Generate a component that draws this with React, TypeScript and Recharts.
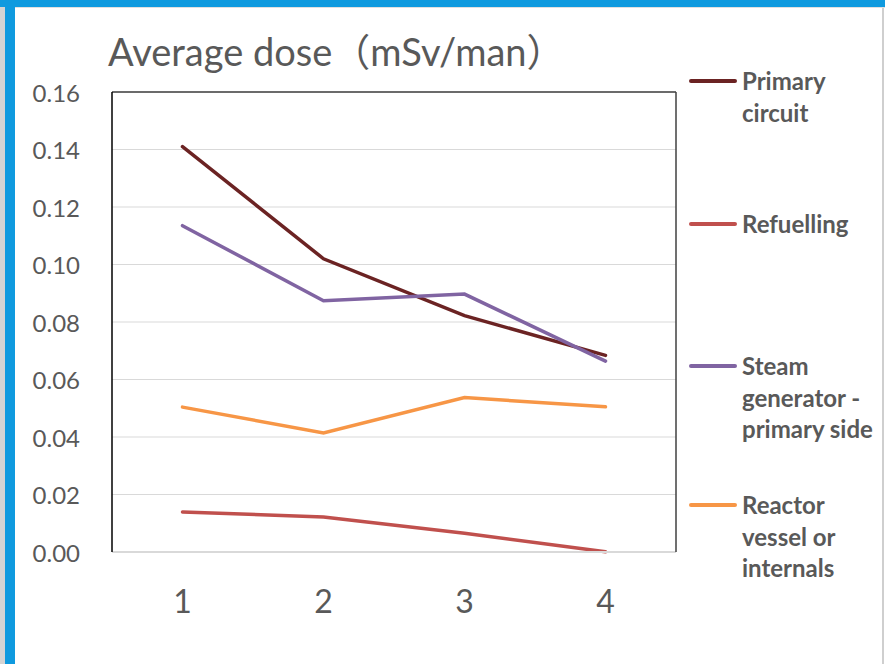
import React from "react";
import { LineChart, Line, XAxis, YAxis, CartesianGrid, ReferenceLine } from "recharts";

const categories = ["1", "2", "3", "4"];
const primaryCircuit = [0.141, 0.102, 0.0822, 0.0684];
const refuelling = [0.0139, 0.0122, 0.0065, 0.0001];
const steamGenerator = [0.1135, 0.0874, 0.0897, 0.0664];
const reactorVessel = [0.0504, 0.0414, 0.0537, 0.0505];
const yTicks = [0, 0.02, 0.04, 0.06, 0.08, 0.1, 0.12, 0.14, 0.16];

const seriesNames = ["Primary circuit", "Refuelling", "Steam generator - primary side", "Reactor vessel or internals"];
const seriesKeys = ["primary", "refuel", "steam", "reactor"];
const seriesColors = ["#6B2323", "#C0504D", "#8064A2", "#F79646"];
const seriesValues = [primaryCircuit, refuelling, steamGenerator, reactorVessel];

const data = categories.map((c, i) => {
  const row: Record<string, string | number> = { cat: c };
  seriesKeys.forEach((k, s) => {
    row[k] = seriesValues[s][i];
  });
  return row;
});

const legendTops = [65, 208, 350, 489];
const FONT = "Lato, 'Noto Sans CJK JP', sans-serif";
const GRAY = "#595959";

const YTick = (props: any) => {
  const { x, y, payload } = props;
  return (
    <text x={x - 24} y={y} textAnchor="end" dominantBaseline="central" fontSize={24} fill={GRAY} fontFamily={FONT}>
      {payload.value.toFixed(2)}
    </text>
  );
};

const XTick = (props: any) => {
  const { x, y, payload } = props;
  return (
    <text x={x} y={y + 40} textAnchor="middle" dominantBaseline="central" fontSize={32} fill={GRAY} fontFamily={FONT}>
      {payload.value}
    </text>
  );
};

export default function App() {
  return (
    <div style={{ position: "absolute", left: 0, top: 0, width: 885, height: 664, background: "#fff", overflow: "hidden", fontFamily: FONT }}>
      <div style={{ position: "absolute", left: 0, top: 0, width: 885, height: 7, background: "#0F9ADF" }} />
      <div style={{ position: "absolute", left: 0, top: 7, width: 885, height: 1, background: "#e0e0e0" }} />
      <div style={{ position: "absolute", left: 0, top: 7, width: 5, height: 657, background: "#d4d4d4" }} />
      <div style={{ position: "absolute", left: 5, top: 7, width: 10, height: 657, background: "#0F9ADF" }} />
      <div style={{ position: "absolute", left: 882, top: 8, width: 2, height: 656, background: "#cfcfcf" }} />
      <div style={{ position: "absolute", left: 108, top: 28, fontSize: 38, lineHeight: "46px", color: GRAY, whiteSpace: "nowrap" }}>
        Average dose（mSv/man）
      </div>
      <div style={{ position: "absolute", left: 0, top: 0 }}>
        <LineChart width={885} height={664} data={data} margin={{ top: 92, right: 208, left: 0, bottom: 52 }}>
          <CartesianGrid horizontal={true} vertical={false} stroke="#d9d9d9" strokeWidth={1.2} />
          <XAxis dataKey="cat" scale="band" height={60} axisLine={{ stroke: "#d9d9d9", strokeWidth: 2 }} tickLine={false} tick={<XTick />} />
          <YAxis width={112} domain={[0, 0.16]} ticks={yTicks} axisLine={{ stroke: "#000", strokeWidth: 1.5 }} tickLine={false} tick={<YTick />} />
          <YAxis yAxisId="r" orientation="right" width={1} domain={[0, 0.16]} tick={false} tickLine={false} axisLine={{ stroke: "#404040", strokeWidth: 1.5 }} />
          <ReferenceLine y={0.16} stroke="#404040" strokeWidth={1.5} />
          {seriesKeys.map((k, s) => (
            <Line key={k} dataKey={k} type="linear" stroke={seriesColors[s]} strokeWidth={3.5} dot={false} activeDot={false} isAnimationActive={false} strokeLinecap="round" />
          ))}
        </LineChart>
      </div>
      {seriesNames.map((n, s) => (
        <div key={n} style={{ position: "absolute", left: 689, top: legendTops[s], display: "flex", alignItems: "flex-start" }}>
          <div style={{ width: 48, height: 4, background: seriesColors[s], borderRadius: 2, marginTop: 14, marginRight: 5 }} />
          <div style={{ width: 140, fontSize: 24, fontWeight: 700, color: GRAY, lineHeight: "31.5px" }}>{n}</div>
        </div>
      ))}
    </div>
  );
}
